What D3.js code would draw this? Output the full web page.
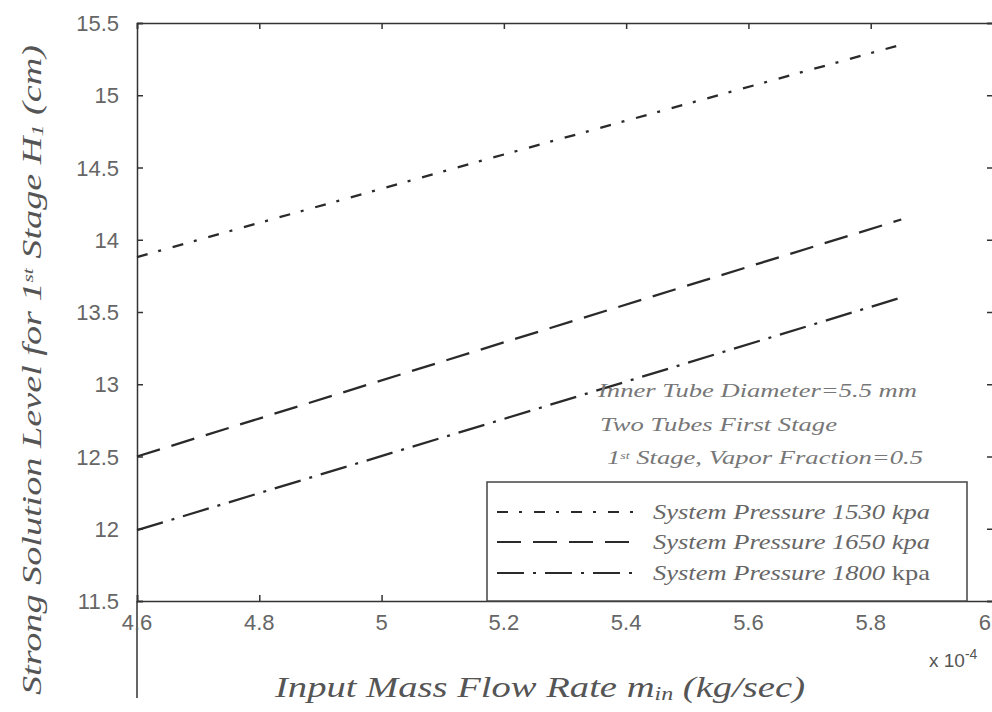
<!DOCTYPE html>
<html>
<head>
<meta charset="utf-8">
<script src="https://cdn.jsdelivr.net/npm/d3@7"></script>
<style>
  body { margin: 0; background: #fff; }
  svg { display: block; }
</style>
</head>
<body>
<div id="chart"></div>
<script>
// data (flow rate in units of 1e-4 kg/sec, level in cm)
const flowRate = [4.6, 5.2, 5.85];
const p1530 = [13.88, 14.59, 15.35];
const p1650 = [12.5, 13.29, 14.14];
const p1800 = [11.99, 12.76, 13.6];
const seriesNames = ["System Pressure 1530 kpa", "System Pressure 1650 kpa", "System Pressure 1800 kpa"];
const xTicks = [4.6, 4.8, 5, 5.2, 5.4, 5.6, 5.8, 6];
const yTicks = [11.5, 12, 12.5, 13, 13.5, 14, 14.5, 15, 15.5];
const notes = ["Inner Tube Diameter=5.5 mm", "Two Tubes First Stage", "Stage, Vapor Fraction=0.5"];

const width = 992, height = 712;
const plot = { left: 137, right: 993, top: 23, bottom: 601 };
const ink = "#333";
const serif = "'Liberation Serif', 'DejaVu Serif', serif";
const sans = "'Liberation Sans', Arial, sans-serif";

const svg = d3.select("#chart").append("svg")
  .attr("width", width).attr("height", height);

const x = d3.scaleLinear().domain([4.6, 6]).range([plot.left, plot.right]);
const y = d3.scaleLinear().domain([11.5, 15.5]).range([plot.bottom, plot.top]);

// frame with inward ticks on all four sides
const tickLen = 6;
svg.append("g").attr("transform", `translate(0,${plot.bottom})`)
  .call(d3.axisTop(x).tickValues(xTicks).tickSize(tickLen).tickFormat(""));
svg.append("g").attr("transform", `translate(0,${plot.top})`)
  .call(d3.axisBottom(x).tickValues(xTicks).tickSize(tickLen).tickFormat(""));
svg.append("g").attr("transform", `translate(${plot.left},0)`)
  .call(d3.axisRight(y).tickValues(yTicks).tickSize(tickLen).tickFormat(""));
svg.append("g").attr("transform", `translate(${plot.right},0)`)
  .call(d3.axisLeft(y).tickValues(yTicks).tickSize(tickLen).tickFormat(""));
svg.selectAll(".domain, .tick line").attr("stroke", ink).attr("stroke-width", 1.5);

// left axis line runs on below the plot in the scan
svg.append("line")
  .attr("x1", plot.left).attr("x2", plot.left).attr("y1", plot.bottom).attr("y2", 698)
  .attr("stroke", ink).attr("stroke-width", 1.5);

// tick labels (last one pulled inside the page edge)
svg.append("g").selectAll("text")
  .data(xTicks).enter().append("text")
  .attr("x", d => d == 6 ? width - 1 : x(d)).attr("y", 630)
  .attr("text-anchor", d => d == 6 ? "end" : "middle")
  .style("font-family", sans).style("font-size", "22px").style("fill", "#666")
  .text(d => d);

svg.append("g").selectAll("text")
  .data(yTicks).enter().append("text")
  .attr("x", 119).attr("y", d => y(d) + 8)
  .attr("text-anchor", "end")
  .style("font-family", sans).style("font-size", "22px").style("fill", "#666")
  .text(d => d);

// exponent
const expo = svg.append("text")
  .attr("x", 929).attr("y", 667)
  .style("font-family", sans).style("font-size", "19px").style("fill", "#555");
expo.append("tspan").text("x 10");
expo.append("tspan").attr("baseline-shift", "super").style("font-size", "14px").text("-4");

// curves
const styles = [
  { data: p1530, dash: "11,11,3,12" },
  { data: p1650, dash: "24,12" },
  { data: p1800, dash: "27,9,3,9" }
];
const line = d3.line().x(d => x(d[0])).y(d => y(d[1]));

styles.forEach(s => {
  svg.append("path")
    .datum(flowRate.map((f, i) => [f, s.data[i]]))
    .attr("d", line)
    .attr("fill", "none")
    .attr("stroke", "#2a2a2a")
    .attr("stroke-width", 2.3)
    .attr("stroke-dasharray", s.dash);
});

// notes
const noteX = [598, 600, 607];
const noteY = [397, 431, 464];
const noteLen = [319, 237, 316];
notes.forEach((t, i) => {
  const tx = svg.append("text")
    .attr("x", noteX[i]).attr("y", noteY[i])
    .attr("textLength", noteLen[i]).attr("lengthAdjust", "spacingAndGlyphs")
    .style("font-family", serif).style("font-style", "italic")
    .style("font-size", "19px").style("fill", "#777");
  if (i == 2) {
    tx.append("tspan").text("1");
    tx.append("tspan").attr("baseline-shift", "super").style("font-size", "10px").text("st");
    tx.append("tspan").text(" " + t);
  } else {
    tx.text(t);
  }
});

// legend
svg.append("rect")
  .attr("x", 487).attr("y", 482).attr("width", 480).attr("height", plot.bottom - 482)
  .attr("fill", "#fff").attr("stroke", "#444").attr("stroke-width", 1.5);

const legendY = [512, 542, 573];
styles.forEach((s, i) => {
  svg.append("line")
    .attr("x1", 497).attr("x2", 640)
    .attr("y1", legendY[i]).attr("y2", legendY[i])
    .attr("stroke", "#2a2a2a").attr("stroke-width", 2)
    .attr("stroke-dasharray", s.dash);
  const t = svg.append("text")
    .attr("x", 653).attr("y", legendY[i] + 7)
    .attr("textLength", 277).attr("lengthAdjust", "spacingAndGlyphs")
    .style("font-family", serif).style("font-size", "21px").style("fill", "#666");
  if (i == 2) {
    t.append("tspan").style("font-style", "italic").text("System Pressure 1800 ");
    t.append("tspan").text("kpa");
  } else {
    t.style("font-style", "italic").text(seriesNames[i]);
  }
});

// axis titles
const xl = svg.append("text")
  .attr("x", 275).attr("y", 697)
  .attr("textLength", 530).attr("lengthAdjust", "spacingAndGlyphs")
  .style("font-family", serif).style("font-style", "italic")
  .style("font-size", "29px").style("fill", "#555");
xl.append("tspan").text("Input Mass Flow Rate m");
xl.append("tspan").attr("baseline-shift", "-3").style("font-size", "18px").text("in");
xl.append("tspan").text(" (kg/sec)");

const yl = svg.append("text")
  .attr("transform", "translate(41,695) rotate(-90)")
  .attr("textLength", 650).attr("lengthAdjust", "spacingAndGlyphs")
  .style("font-family", serif).style("font-style", "italic")
  .style("font-size", "27px").style("fill", "#555");
yl.append("tspan").text("Strong Solution Level for 1");
yl.append("tspan").attr("baseline-shift", "super").style("font-size", "15px").text("st");
yl.append("tspan").text("   Stage H");
yl.append("tspan").attr("baseline-shift", "-2").style("font-size", "17px").text("1");
yl.append("tspan").text(" (cm)");
</script>
</body>
</html>
